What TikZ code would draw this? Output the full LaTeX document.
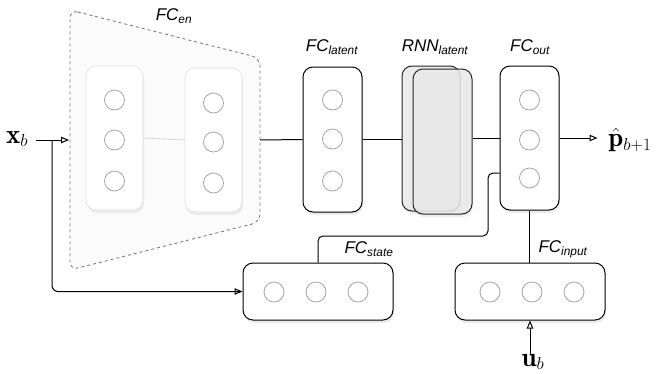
\documentclass[tikz,border=0pt]{standalone}
\usepackage{fontspec}
\setsansfont{Liberation Sans}
\usetikzlibrary{arrows.meta,shadows}
\tikzset{
  lbl/.style={font=\sffamily\itshape\fontsize{17}{19}\selectfont, inner sep=0pt},
  mathlbl/.style={font=\fontsize{27}{30}\selectfont, inner sep=0pt},
  layer/.style={draw=black, line width=1pt, rounded corners=10pt, fill=white,
     drop shadow={opacity=0.15, shadow xshift=1pt, shadow yshift=-3pt}},
  enclayer/.style={draw=black!12, line width=0.6pt, rounded corners=10pt, fill=white,
     drop shadow={opacity=0.13, shadow xshift=1pt, shadow yshift=-3pt}},
  rnnlayer/.style={draw=black!85, line width=1pt, rounded corners=10pt, fill=black!8,
     drop shadow={opacity=0.13, shadow xshift=1pt, shadow yshift=-3pt}},
  neuron/.style={circle, draw=black!35, line width=0.8pt, minimum size=20pt, inner sep=0pt},
  conn/.style={line width=1pt, black},
  arr/.style={conn, -{Triangle[open, length=8pt, width=6.5pt]}},
}
\begin{document}
\begin{tikzpicture}[x=1pt,y=-1pt]
\useasboundingbox (0,0) rectangle (657,373);
% encoder trapezoid
\draw[dashed, draw=black!55, line width=0.8pt, fill=black!1.5, rounded corners=8pt]
  (70,10) -- (260,58) -- (260,222) -- (70,270) -- cycle;
\coordinate (enL) at (69,140);
\coordinate (enR) at (260,140);
\node[lbl] (lfcen) at (174,16) {FC\textsubscript{en}};
% encoder layers
\node[enclayer, minimum width=57pt, minimum height=144pt] (enc1) at (114.5,138) {};
\node[enclayer, minimum width=57pt, minimum height=144pt] (enc2) at (213.5,140) {};
\draw[draw=black!20, line width=0.6pt] (enc1.east) -- (enc2.west);
\foreach \i/\y in {1/100,2/140,3/181}{\node[neuron] (e1n\i) at (114.5,\y) {};}
\foreach \i/\y in {1/103,2/142,3/183}{\node[neuron] (e2n\i) at (213.5,\y) {};}
% latent
\node[layer, minimum width=59pt, minimum height=145pt] (lat) at (332.5,139.5) {};
\foreach \i/\y in {1/100,2/139,3/181}{\node[neuron] (ln\i) at (332.5,\y) {};}
\node[lbl] (llat) at (332,47) {FC\textsubscript{latent}};
% rnn
\node[rnnlayer, minimum width=58pt, minimum height=145pt] (rnnb) at (431,138.5) {};
\node[rnnlayer, fill opacity=0.85, minimum width=59pt, minimum height=145pt] (rnnf) at (442.5,141.5) {};
\node[lbl] (lrnn) at (435,47) {RNN\textsubscript{latent}};
% out
\node[layer, minimum width=59pt, minimum height=144pt] (out) at (529.5,138) {};
\foreach \i/\y in {1/100,2/140,3/178}{\node[neuron] (on\i) at (529.5,\y) {};}
\node[lbl] (lout) at (530,47) {FC\textsubscript{out}};
% state
\node[layer, minimum width=150pt, minimum height=57pt] (state) at (318,291.5) {};
\foreach \i/\x in {1/274,2/316,3/358}{\node[neuron] (sn\i) at (\x,292) {};}
\node[lbl] (lstate) at (369,249) {FC\textsubscript{state}};
% input
\node[layer, minimum width=150pt, minimum height=57pt] (inp) at (530,291.5) {};
\foreach \i/\x in {1/490,2/532,3/574}{\node[neuron] (in\i) at (\x,292) {};}
\node[lbl] (linp) at (563,249) {FC\textsubscript{input}};
% math labels
\node[mathlbl] (xb) at (17,139) {$\mathbf{x}_b$};
\node[mathlbl] (pb) at (630,140) {$\hat{\mathbf{p}}_{b+1}$};
\node[mathlbl] (ub) at (533,362) {$\mathbf{u}_b$};
% connectors
\coordinate (split) at (52,140);
\draw[arr] (36,140) -- (enL);
\draw[conn, rounded corners=6pt] (split) |- ([xshift=-3pt]state.west);
\draw[arr] (state.west) ++(-30,0) -- (state.west);
\draw[conn] (enR) -- (lat.west);
\draw[conn] (lat.east) -- (rnnb.west |- lat.east);
\draw[conn] (rnnf.east |- out.west) -- (out.west);
\draw[arr] (out.east) -- ++(38,0);
\draw[conn, rounded corners=5pt] (out.west |- 0,173) -- (488,173) -- (488,236) -- (318,236) -- (state.north -| 318,0);
\draw[conn] (out.south) -- (inp.north -| out.south);
\draw[arr] (530,354) -- (inp.south -| 530,0);
\end{tikzpicture}
\end{document}
